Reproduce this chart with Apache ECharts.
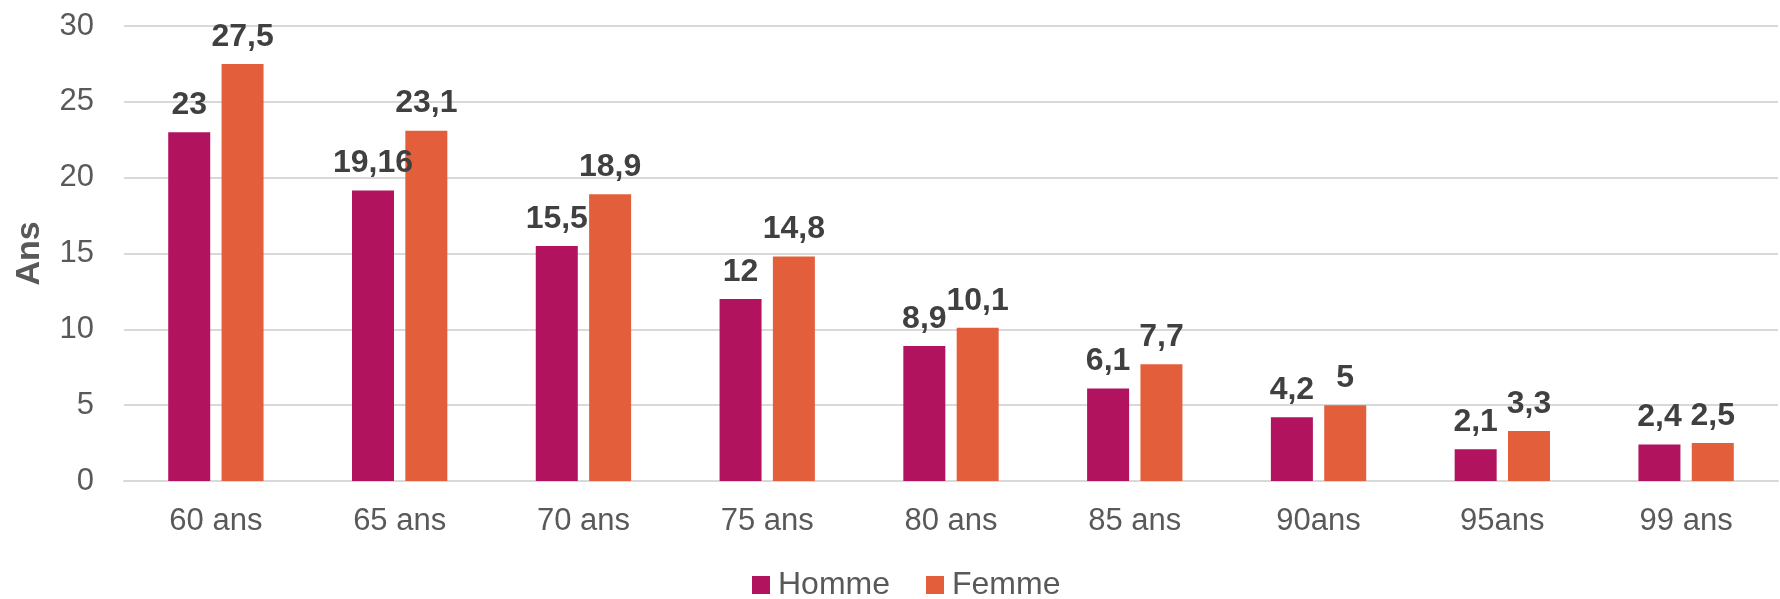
<!DOCTYPE html>
<html><head><meta charset="utf-8">
<script src="https://cdn.jsdelivr.net/npm/echarts@6/dist/echarts.min.js"></script>
<style>html,body{margin:0;padding:0;background:#fff}#c{width:1780px;height:599px}</style>
</head><body><div id="c"></div>
<script>
const categories = ['60 ans','65 ans','70 ans','75 ans','80 ans','85 ans','90ans','95ans','99 ans'];
const homme = [23, 19.16, 15.5, 12, 8.9, 6.1, 4.2, 2.1, 2.4];
const femme = [27.5, 23.1, 18.9, 14.8, 10.1, 7.7, 5, 3.3, 2.5];
const yTicks = [0, 5, 10, 15, 20, 25, 30];

const FONT = '"Liberation Sans", Arial, sans-serif';
const labelCfg = {
  show: true, position: 'top', distance: 11,
  color: '#404040', fontSize: 32, fontWeight: 'bold', fontFamily: FONT,
  formatter: p => String(p.value).replace('.', ',')
};
const chart = echarts.init(document.getElementById('c'), null, {renderer: 'canvas'});
chart.setOption({
  animation: false,
  grid: {left: 124, right: 2, top: 26, bottom: 118, containLabel: false},
  legend: {
    top: 564, left: 747, itemWidth: 18, itemHeight: 18, itemGap: 36,
    icon: 'rect',
    textStyle: {color: '#595959', fontSize: 32, fontFamily: FONT, padding: [0,0,0,3], lineHeight: 32},
    data: ['Homme', 'Femme']
  },
  xAxis: {
    type: 'category', data: categories,
    axisLine: {lineStyle: {color: '#d9d9d9', width: 2}},
    axisTick: {show: false},
    axisLabel: {color: '#595959', fontSize: 31, fontFamily: FONT, margin: 25}
  },
  yAxis: {
    type: 'value', min: yTicks[0], max: yTicks[yTicks.length-1], interval: 5,
    name: 'Ans', nameLocation: 'middle', nameGap: 77,
    nameTextStyle: {color: '#595959', fontSize: 34, fontWeight: 'bold', fontFamily: FONT},
    axisLine: {show: false}, axisTick: {show: false},
    axisLabel: {color: '#595959', fontSize: 31, fontFamily: FONT, margin: 30},
    splitLine: {lineStyle: {color: '#d9d9d9', width: 2}}
  },
  series: [
    {name: 'Homme', type: 'bar', data: homme, barWidth: 42, barGap: '27%',
     itemStyle: {color: '#B1135F'}, label: labelCfg},
    {name: 'Femme', type: 'bar', data: femme, barWidth: 42,
     itemStyle: {color: '#E35F3C'}, label: labelCfg}
  ]
});
</script></body></html>
